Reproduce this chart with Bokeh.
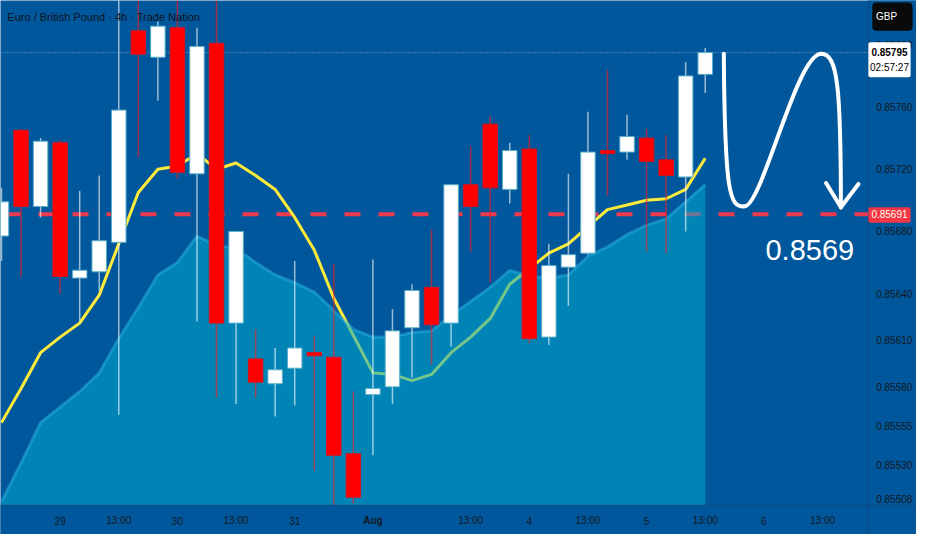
from bokeh.plotting import figure
from bokeh.models import Range1d, Span
from bokeh.embed import file_html
from bokeh.resources import INLINE
from bokeh.core.properties import value

# ---------------- data (EUR/GBP 4h) ----------------
bar_index = list(range(37))
opens = [0.85677, 0.85745, 0.85696, 0.85737, 0.85650, 0.85654, 0.85673, 0.85809, 0.85792, 0.85811,
         0.85717, 0.85801, 0.85621, 0.85598, 0.85582, 0.85592, 0.85602, 0.85599, 0.85537, 0.85575,
         0.85580, 0.85618, 0.85644, 0.85621, 0.85710, 0.85749, 0.85707, 0.85733, 0.85612, 0.85657,
         0.85666, 0.85732, 0.85731, 0.85740, 0.85726, 0.85715, 0.85781]
highs = [0.85708, 0.85746, 0.85740, 0.85739, 0.85706, 0.85716, 0.85830, 0.85830, 0.85815, 0.85830,
         0.85811, 0.85830, 0.85680, 0.85617, 0.85605, 0.85661, 0.85613, 0.85659, 0.85577, 0.85662,
         0.85630, 0.85646, 0.85681, 0.85710, 0.85735, 0.85754, 0.85737, 0.85742, 0.85672, 0.85717,
         0.85757, 0.85784, 0.85755, 0.85746, 0.85742, 0.85789, 0.85798]
lows = [0.85661, 0.85651, 0.85689, 0.85640, 0.85622, 0.85642, 0.85562, 0.85728, 0.85764, 0.85714,
        0.85622, 0.85573, 0.85569, 0.85573, 0.85561, 0.85568, 0.85526, 0.85504, 0.85505, 0.85536,
        0.85569, 0.85586, 0.85594, 0.85606, 0.85667, 0.85647, 0.85698, 0.85608, 0.85607, 0.85632,
        0.85665, 0.85703, 0.85726, 0.85667, 0.85666, 0.85680, 0.85769]
closes = [0.85699, 0.85696, 0.85738, 0.85651, 0.85655, 0.85674, 0.85758, 0.85794, 0.85812, 0.85718,
          0.85799, 0.85621, 0.85680, 0.85583, 0.85591, 0.85605, 0.85600, 0.85536, 0.85509, 0.85579,
          0.85616, 0.85642, 0.85620, 0.85710, 0.85696, 0.85708, 0.85732, 0.85611, 0.85658, 0.85665,
          0.85731, 0.85730, 0.85741, 0.85725, 0.85716, 0.85780, 0.85795]
ema_fast = [0.85557, 0.85579, 0.85602, 0.85612, 0.85621, 0.85639, 0.85672, 0.85705, 0.85720, 0.85722,
            0.85730, 0.85720, 0.85724, 0.85716, 0.85707, 0.85689, 0.85668, 0.85637, 0.85613, 0.85589,
            0.85588, 0.85584, 0.85588, 0.85602, 0.85612, 0.85624, 0.85646, 0.85656, 0.85666, 0.85672,
            0.85683, 0.85694, 0.85697, 0.85700, 0.85701, 0.85707, 0.85727]
ema_slow = [0.85506, 0.85531, 0.85557, 0.85567, 0.85577, 0.85589, 0.85611, 0.85631, 0.85652, 0.85660,
            0.85677, 0.85671, 0.85669, 0.85660, 0.85652, 0.85647, 0.85641, 0.85629, 0.85617, 0.85612,
            0.85612, 0.85615, 0.85616, 0.85626, 0.85635, 0.85644, 0.85655, 0.85651, 0.85650, 0.85652,
            0.85664, 0.85670, 0.85678, 0.85684, 0.85688, 0.85699, 0.85710]
current_price = 0.85795
countdown = "02:57:27"
target_level = 0.85691
time_ticks = [3, 6, 9, 12, 15, 24, 27, 30, 33, 36, 39, 42]
time_labels = ["29", "13:00", "30", "13:00", "31", "13:00", "4", "13:00", "5", "13:00", "6", "13:00"]
month_tick = 19
month_label = "Aug"
price_ticks = [0.85800, 0.85760, 0.85720, 0.85680, 0.85640, 0.85610, 0.85580, 0.85555, 0.85530, 0.85508]
title_text = "Euro / British Pound \u00b7 4h \u00b7 Trade Nation"
currency = "GBP"

# hand-drawn projection arrow (bar index, price)
arrow_x0 = [36.95, 38.01, 41.93]
arrow_y0 = [0.857942, 0.856961, 0.857942]
arrow_cx0 = [37.00, 38.91, 42.78]
arrow_cy0 = [0.857036, 0.856961, 0.857942]
arrow_cx1 = [37.25, 40.67, 42.94]
arrow_cy1 = [0.856955, 0.857942, 0.857723]
arrow_x1 = [38.01, 41.93, 42.94]
arrow_y1 = [0.856961, 0.857942, 0.856955]
head_x0 = [42.18, 43.84]
head_y0 = [0.857111, 0.857105]
head_x1 = [42.94, 42.94]
head_y1 = [0.856955, 0.856955]
target_text_x = 41.35
target_text_y = 0.85668

# ---------------- view / layout ----------------
X0, X1 = -0.0503, 46.807        # visible bar-index range (whole canvas)
Y0, Y1 = 0.8548504, 0.8582851   # visible price range (whole canvas)
PRICE_EDGE = 44.344             # left edge of the price scale
TIME_EDGE = 0.855038            # top edge of the time scale
PRICE_LABEL_X = 44.746
BOX_L, BOX_R, BOX_C = 44.344, 46.505, 45.425
TIME_LABEL_Y = 0.854938

BG = "#01579B"
AREA = "#00AACC"
FONT = "Liberation Sans"
TXT = "#131722"

p = figure(frame_width=916, frame_height=534,
           x_range=Range1d(X0, X1), y_range=Range1d(Y0, Y1),
           output_backend="svg", toolbar_location=None,
           x_axis_location=None, y_axis_location=None,
           min_border_left=0, min_border_top=0, min_border_right=0, min_border_bottom=0,
           background_fill_color=BG, border_fill_color=BG, outline_line_color=None)
p.grid.visible = False

# level lines
p.add_layout(Span(location=current_price, dimension="width", line_color="#8FAED0",
                  line_width=1, line_dash="1 2", level="underlay"))
p.add_layout(Span(location=target_level, dimension="width", line_color="#EE3A4F",
                  line_width=4, line_dash="16 18", line_dash_offset=30, level="underlay"))

# moving averages
p.line(bar_index, ema_fast, line_color="#FFEB3B", line_width=3)
p.varea(x=bar_index, y1=[Y0] * len(bar_index), y2=ema_slow, fill_color=AREA, fill_alpha=0.55)
p.line(bar_index, ema_slow, line_color="#2BB3E0", line_width=3, line_alpha=0.5)

# candles
up = [c >= o for o, c in zip(opens, closes)]
wick_col = ["#FFFFFF" if u else "#FF1A1A" for u in up]
p.segment(x0=bar_index, y0=lows, x1=bar_index, y1=highs, line_color=wick_col,
          line_alpha=0.6, line_width=1.5)
p.vbar(x=bar_index, width=0.74,
       top=[max(o, c) for o, c in zip(opens, closes)],
       bottom=[min(o, c) for o, c in zip(opens, closes)],
       fill_color=["#FFFFFF" if u else "#FF0000" for u in up],
       line_color=["#5AAFC9" if u else "#D8141E" for u in up], line_width=1)

# projection arrow and target
p.bezier(x0=arrow_x0, y0=arrow_y0, x1=arrow_x1, y1=arrow_y1,
         cx0=arrow_cx0, cy0=arrow_cy0, cx1=arrow_cx1, cy1=arrow_cy1,
         line_color="white", line_width=4, line_cap="round")
p.segment(x0=head_x0, y0=head_y0, x1=head_x1, y1=head_y1,
          line_color="white", line_width=4, line_cap="round")
p.text(x=[target_text_x], y=[target_text_y], text=[f"{target_level:.4f}"],
       text_font=value(FONT), text_font_size="29px", text_color="white",
       text_align="center", text_baseline="alphabetic")

# ---------------- scales (price on the right, time below) ----------------
p.quad(left=[PRICE_EDGE], right=[X1 + 1], bottom=[Y0 - 0.001], top=[Y1 + 0.001],
       fill_color=BG, line_color=None)
p.quad(left=[X0 - 1], right=[X1 + 1], bottom=[Y0 - 0.001], top=[TIME_EDGE],
       fill_color=BG, line_color=None)
p.segment(x0=[PRICE_EDGE, X0 - 1], y0=[Y0 - 0.001, TIME_EDGE],
          x1=[PRICE_EDGE, X1 + 1], y1=[Y1 + 0.001, TIME_EDGE],
          line_color="#0B4A84", line_width=1)

p.text(x=[PRICE_LABEL_X] * len(price_ticks), y=price_ticks,
       text=[f"{t:.5f}" for t in price_ticks],
       text_font=value(FONT), text_font_size="10px", text_color=TXT,
       text_align="left", text_baseline="middle")
p.text(x=time_ticks, y=[TIME_LABEL_Y] * len(time_ticks), text=time_labels,
       text_font=value(FONT), text_font_size="10px", text_color=TXT,
       text_align="center", text_baseline="middle")
p.text(x=[month_tick], y=[TIME_LABEL_Y], text=[month_label],
       text_font=value(FONT), text_font_size="10px", text_font_style="bold",
       text_color=TXT, text_align="center", text_baseline="middle")

# currency box
p.quad(left=[44.545], right=[46.606], bottom=[0.858091], top=[0.858273],
       fill_color="#0A0A0A", line_color=None, border_radius=4)
p.text(x=[45.274], y=[0.858182], text=[currency], text_font=value(FONT),
       text_font_size="10px", text_color="white", text_align="center", text_baseline="middle")
# current price box
p.quad(left=[BOX_L], right=[BOX_R], bottom=[0.857792], top=[0.858017],
       fill_color="white", line_color=None, border_radius=2)
p.text(x=[BOX_C], y=[0.857954], text=[f"{current_price:.5f}"], text_font=value(FONT),
       text_font_size="10px", text_font_style="bold", text_color="#000000",
       text_align="center", text_baseline="middle")
p.text(x=[BOX_C], y=[0.857854], text=[countdown], text_font=value(FONT),
       text_font_size="10px", text_color="#000000",
       text_align="center", text_baseline="middle")
# target price box
p.quad(left=[BOX_L], right=[BOX_R], bottom=[0.856855], top=[0.856955],
       fill_color="#F23645", line_color=None, border_radius=2)
p.text(x=[BOX_C], y=[target_level], text=[f"{target_level:.5f}"], text_font=value(FONT),
       text_font_size="10px", text_color="#FFFDE7",
       text_align="center", text_baseline="middle")

# title
p.text(x=[0.30], y=[0.858179], text=[title_text], text_font=value(FONT),
       text_font_size="11px", text_color="#0E1220",
       text_align="left", text_baseline="middle")

open("out.html", "w").write(file_html(p, INLINE))
